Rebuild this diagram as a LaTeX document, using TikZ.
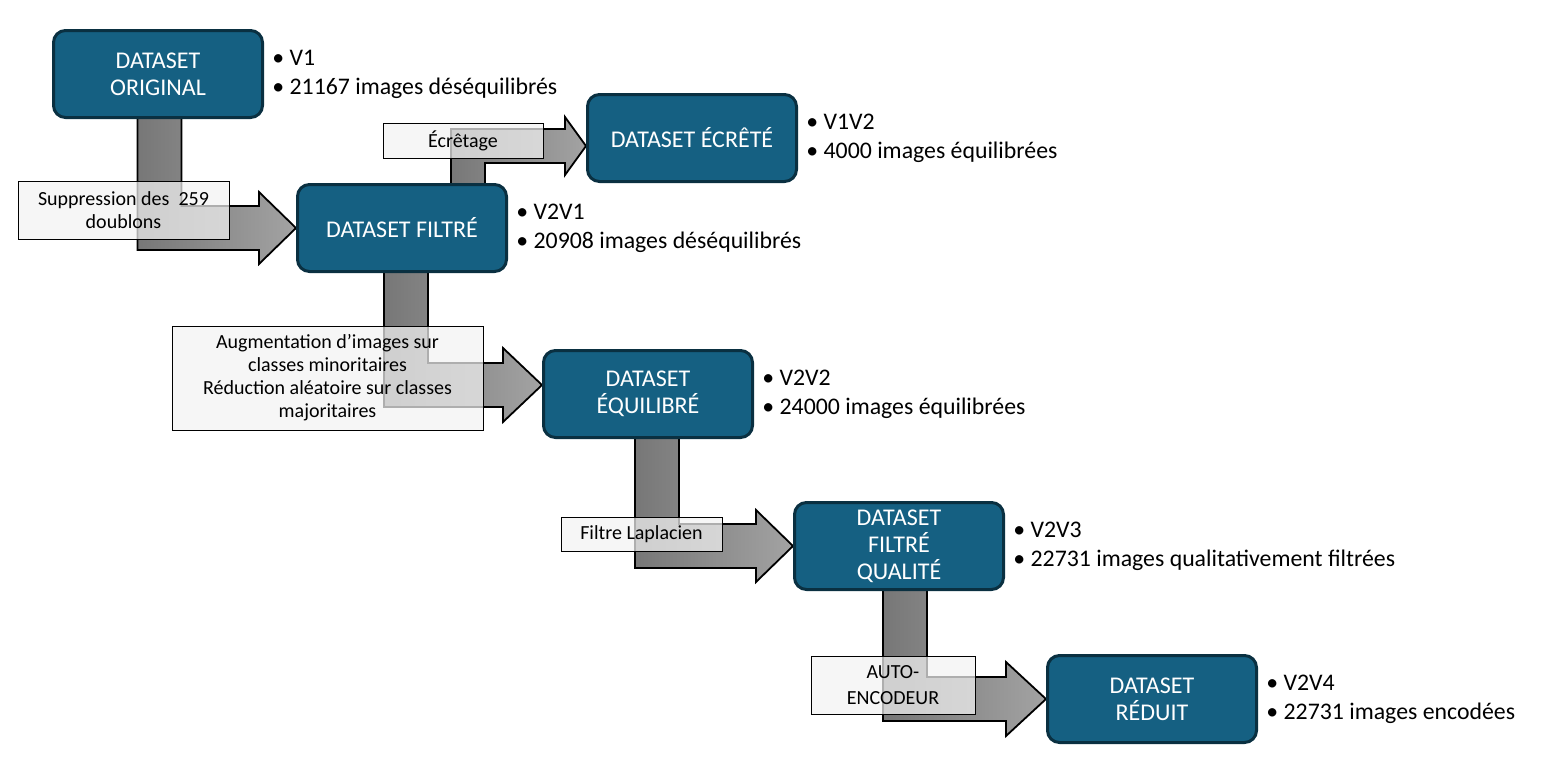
\documentclass[tikz,border=0pt]{standalone}
\usepackage{fontspec}
\setmainfont{Carlito}
\usetikzlibrary{arrows,calc}
\pgfdeclarelayer{background}
\pgfsetlayers{background,main}
\definecolor{bleuds}{HTML}{156082}
\definecolor{bordds}{HTML}{0A3041}
\definecolor{grisfonce}{HTML}{777777}
\definecolor{grisclair}{HTML}{A3A3A3}
\definecolor{fondlab}{HTML}{F2F2F2}
\newcommand{\coude}[6]{%
  \draw[fleche] ($(#1)+({-#4},0)$) |- ($(#2)+({-#6},{(#3)*#4})$)
    -- ($(#2)+({-#6},{(#3)*#5})$) -- (#2)
    -- ($(#2)+({-#6},{-(#3)*#5})$) -- ($(#2)+({-#6},{-(#3)*#4})$)
    -| ($(#1)+(#4,0)$) -- cycle;}

\begin{document}
\begin{tikzpicture}[x=0.5pt,y=-0.5pt]
\tikzstyle{every node}=[font=\fontsize{12}{13.5}\selectfont,align=center]
\tikzstyle{dataset}=[draw=bordds,line width=1.5pt,fill=bleuds,text=white,rounded corners=6pt,minimum width=104.5pt,minimum height=43.5pt,inner sep=2pt]
\tikzstyle{puces}=[anchor=west,align=left,font=\fontsize{11.9}{14.5}\selectfont,inner sep=0pt,xshift=4pt]
\tikzstyle{etape}=[draw=black,line width=0.5pt,fill=fondlab,fill opacity=0.72,text opacity=1,font=\fontsize{10}{11.5}\selectfont,inner sep=1pt]
\tikzstyle{fleche}=[draw=black,line width=0.9pt,left color=grisfonce,right color=grisclair]
\useasboundingbox (0,0) rectangle (1545,782);
\node[dataset] (orig) at (158,74) {DATASET\\ORIGINAL};
\node[dataset] (ecrete) at (692,138) {DATASET ÉCRÊTÉ};
\node[dataset] (filtre) at (402,228) {DATASET FILTRÉ};
\node[dataset] (equil) at (648,394) {DATASET\\ÉQUILIBRÉ};
\node[dataset] (qualite) at (899,546) {DATASET\\FILTRÉ\\QUALITÉ};
\node[dataset] (reduit) at (1152,699) {DATASET\\RÉDUIT};
\node[puces] (iorig) at (orig.east) {\textbullet\ V1\\\textbullet\ 21167 images déséquilibrés};
\node[puces] (iecrete) at (ecrete.east) {\textbullet\ V1V2\\\textbullet\ 4000 images équilibrées};
\node[puces] (ifiltre) at (filtre.east) {\textbullet\ V2V1\\\textbullet\ 20908 images déséquilibrés};
\node[puces] (iequil) at (equil.east) {\textbullet\ V2V2\\\textbullet\ 24000 images équilibrées};
\node[puces] (iqualite) at (qualite.east) {\textbullet\ V2V3\\\textbullet\ 22731 images qualitativement filtrées};
\node[puces] (ireduit) at (reduit.east) {\textbullet\ V2V4\\\textbullet\ 22731 images encodées};
\coordinate (d1) at ($(orig.south)+(1.5,-6)$);
\coordinate (d2) at ($(filtre.north)+(66,6)$);
\coordinate (f2) at ($(ecrete.west)+(0,8)$);
\coordinate (d3) at ($(filtre.south)+(4,-6)$);
\coordinate (f3) at ($(equil.west)+(0,-9)$);
\coordinate (d4) at ($(equil.south)+(9,-6)$);
\coordinate (d5) at ($(qualite.south)+(6,-6)$);
\begin{pgfonlayer}{background}
\coude{d1}{filtre.west}{1}{22}{36}{37}
\coude{d2}{f2}{-1}{17}{29}{21}
\coude{d3}{f3}{1}{22}{37}{39}
\coude{d4}{qualite.west}{1}{22}{36}{37}
\coude{d5}{reduit.west}{1}{22}{37}{40}
\end{pgfonlayer}
\node[etape,minimum width=105.5pt,minimum height=29pt] (lsuppr) at (123.5,210) {Suppression des\ \ 259\\doublons};
\node[etape,minimum width=80pt,minimum height=17.5pt] (lecret) at (463,140.5) {Écrêtage};
\node[etape,minimum width=155.5pt,minimum height=52pt] (laugm) at (327.5,378) {Augmentation d’images sur\\classes minoritaires\\Réduction aléatoire sur classes\\majoritaires};
\node[etape,minimum width=80.5pt,minimum height=17pt] (llapl) at (641.5,534) {Filtre Laplacien};
\node[etape,minimum width=82pt,minimum height=29pt,font=\fontsize{10}{13}\selectfont] (lauto) at (893,685) {AUTO-\\ENCODEUR};
\end{tikzpicture}
\end{document}
